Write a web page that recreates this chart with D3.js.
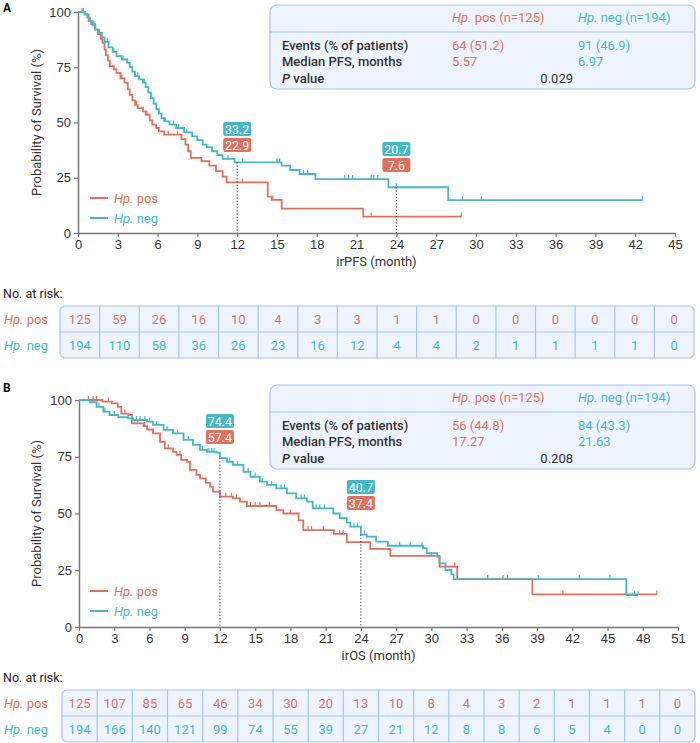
<!DOCTYPE html>
<html>
<head>
<meta charset="utf-8">
<script src="https://cdn.jsdelivr.net/npm/d3@7"></script>
<style>
  body { margin: 0; background: #fff; }
  svg { display: block; font-family: Roboto, "Open Sans", sans-serif; }
</style>
</head>
<body>
<svg id="chart" width="700" height="743"></svg>
<script>
// Kaplan-Meier step points: [month, survival %], value holds from that month on.
var pfsPos = [[0,100],[0.5,98.8],[0.8,96],[1.0,94.5],[1.3,92],[1.5,90],[1.7,88],[1.85,86],[2.0,83],[2.1,80.5],
  [2.25,78],[2.4,75.5],[2.7,74],[2.9,72.5],[3.2,70],[3.5,68],[3.75,65],[3.9,62.5],[4.1,60],[4.3,58],[4.5,56.5],
  [4.9,55],[5.1,53.5],[5.4,51],[5.6,49],[5.9,47.5],[6.1,46],[6.5,44.5],[7.8,42.5],[8.1,40],[8.3,37],[8.5,34],
  [9.3,32.5],[9.9,30.5],[10.4,28],[10.9,25.5],[11.2,22.9],[14.3,16.5],[14.6,15],[15.35,11],[21.5,7.4]];
var pfsPosEnd = 28.9;
var pfsPosCensor = [0.4,1.6,2.4,3.3,4.4,5.2,6.8,7.5,12.4,14.7,22.1,28.9];

var pfsNeg = [[0,100],[0.5,99],[0.7,97.5],[0.9,96],[1.1,94],[1.3,92],[1.5,90.5],[1.8,88.5],[2.0,86.5],[2.3,84],
  [2.6,82],[2.9,80],[3.3,78.5],[3.7,77],[3.9,75],[4.1,73],[4.3,71],[4.6,69.5],[4.9,68],[5.1,66],[5.3,63.5],
  [5.5,61],[5.7,58.5],[5.9,56],[6.1,54],[6.3,52],[6.5,50.5],[6.9,49],[7.4,47.5],[8.0,45.5],[8.6,43.7],[9.0,42],
  [9.4,40],[9.7,38.8],[10.1,37],[10.5,35.2],[10.9,33.5],[11.8,32],[15.35,30.5],[16.0,28.5],[16.7,26.7],
  [17.9,24.4],[23.4,20.7],[27.9,14.9]];
var pfsNegEnd = 42.55;
var pfsNegCensor = [0.3,1.2,1.6,2.2,2.7,3.4,4.5,5.0,6.6,7.2,7.6,8.2,11.3,12.4,15.0,15.2,17.0,17.3,20.1,20.4,
  20.7,22.1,22.3,22.6,24.0,29.0,30.4,42.55];

var osPos = [[0,100],[2.0,99.3],[2.8,98.5],[3.3,97],[3.6,94],[4.2,93.4],[4.5,89.7],[5.5,88.5],[5.8,87],[6.3,85.3],
  [6.9,81.6],[7.3,78.7],[8.0,77.2],[8.3,75.8],[8.7,73.6],[9.2,72.8],[9.45,69.2],[10.0,67],[10.3,65.5],[10.8,63.5],
  [11.15,61.8],[11.4,59.6],[12.0,57.4],[13.1,56.7],[13.7,55.2],[14.3,53.3],[16.8,51.5],[17.4,50],[18.7,47],
  [19.1,42.7],[21.7,41],[22.8,37.4],[24.8,34.4],[26.5,31.3],[30.7,26.6],[32.2,21.1],[38.6,14.4]];
var osPosEnd = 49.2;
var osPosCensor = [0.8,1.2,1.5,2.5,3.9,5.0,5.6,7.6,8.6,12.5,13.0,13.4,14.6,15.0,15.4,16.2,18.0,19.5,19.8,20.8,
  22.2,22.5,30.0,32.0,34.8,36.1,36.5,41.2,49.2];

var osNeg = [[0,100],[0.9,99],[1.5,97],[2.07,94.9],[2.6,93.4],[3.35,92.4],[4.2,91.9],[4.6,91.2],[5.8,90.5],[6.3,89],
  [7.2,86.8],[8.0,85.3],[8.9,82.4],[9.7,80.2],[10.3,78],[10.9,77.2],[11.7,76.8],[12.0,74.4],[12.6,72.8],[13.1,71.4],
  [14.0,68.4],[14.6,66.2],[15.4,64],[16.0,62.6],[16.8,61.1],[17.7,58.9],[18.5,56.7],[19.4,55.2],[19.9,52.3],
  [21.65,50],[22.2,48],[22.8,46],[23.1,44.2],[24.0,40.7],[24.5,39.8],[25.3,37.6],[26.3,35.8],[29.3,34.7],[29.6,32.5],
  [30.5,31],[30.7,28],[31.2,25.1],[31.7,23.2],[31.9,21.1],[46.6,14.1]];
var osNegEnd = 47.6;
var osNegCensor = [1.2,1.7,2.2,3.0,4.5,4.9,5.2,5.6,6.0,6.6,7.5,8.4,9.3,10.5,11.0,11.3,11.5,12.8,13.5,14.4,15.0,15.6,
  16.4,17.2,17.5,18.9,19.2,20.2,20.5,20.9,23.4,23.7,24.3,27.3,28.2,29.2,39.1,42.6,45.2,47.3,47.6];

// Landmark survival labels
var pfsLandmarks = [{t: 12, neg: 33.2, pos: 22.9}, {t: 24, neg: 20.7, pos: 7.6}];
var osLandmarks = [{t: 12, neg: 74.4, pos: 57.4}, {t: 24, neg: 40.7, pos: 37.4}];

// Axes ticks
var pfsTicks = [0,3,6,9,12,15,18,21,24,27,30,33,36,39,42,45];
var osTicks = [0,3,6,9,12,15,18,21,24,27,30,33,36,39,42,45,48,51];
var yTicks = [0,25,50,75,100];

// Number at risk
var pfsRiskPos = [125,59,26,16,10,4,3,3,1,1,0,0,0,0,0,0];
var pfsRiskNeg = [194,110,58,36,26,23,16,12,4,4,2,1,1,1,1,0];
var osRiskPos = [125,107,85,65,46,34,30,20,13,10,8,4,3,2,1,1,1,0];
var osRiskNeg = [194,166,140,121,99,74,55,39,27,21,12,8,8,6,5,4,0,0];

// Summary table
var statLabels = ['Events (% of patients)', 'Median PFS, months', 'value'];
var pfsStatPos = ['64 (51.2)', '5.57'];
var pfsStatNeg = ['91 (46.9)', '6.97'];
var pfsP = '0.029';
var osStatPos = ['56 (44.8)', '17.27'];
var osStatNeg = ['84 (43.3)', '21.63'];
var osP = '0.208';

var RED = '#e2705f', TEAL = '#45b7c7', AXIS = '#777', TXT = '#333';
var svg = d3.select('#chart');

function valueAt(pts, t) {
  var v = pts[0][1];
  pts.forEach(function(p) { if (p[0] <= t) { v = p[1]; } });
  return v;
}

function hpText(sel, rest) {
  sel.append('tspan').attr('font-style', 'italic').text('Hp.');
  sel.append('tspan').text(rest);
}

function drawPanel(cfg) {
  var g = svg.append('g');
  var x = d3.scaleLinear().domain([0, cfg.ticks[cfg.ticks.length - 1]]).range([cfg.x0, cfg.x1]);
  var y = d3.scaleLinear().domain([0, 100]).range([cfg.y0, cfg.y1]);

  g.append('text').attr('x', 3).attr('y', cfg.letterY).attr('font-weight', 'bold')
    .attr('font-size', 12).attr('fill', '#111').text(cfg.letter);

  // stats box
  var b = cfg.box;
  g.append('rect').attr('x', b.x).attr('y', b.y).attr('width', b.w).attr('height', b.h)
    .attr('rx', 7).attr('fill', '#eef4fd').attr('stroke', '#a9c5ee').attr('stroke-width', 1.2);
  g.append('line').attr('x1', b.x).attr('x2', b.x + b.w).attr('y1', b.y + 27).attr('y2', b.y + 27)
    .attr('stroke', '#a9c5ee').attr('stroke-width', 1.2);
  var hd = g.append('g').attr('font-size', 13);
  hd.append('text').attr('x', 452).attr('y', b.y + 17).attr('fill', RED).call(hpText, ' pos (n=125)');
  hd.append('text').attr('x', 578).attr('y', b.y + 17).attr('fill', TEAL).call(hpText, ' neg (n=194)');
  statLabels.forEach(function(lab, i) {
    var t = g.append('text').attr('x', 282).attr('y', b.y + 45 + i * 16.3)
      .attr('font-size', 13).attr('font-weight', 500).attr('fill', TXT);
    if (i === 2) {
      t.append('tspan').attr('font-style', 'italic').text('P');
      t.append('tspan').text(' ' + lab);
    } else { t.text(lab); }
  });
  cfg.statPos.forEach(function(v, i) {
    g.append('text').attr('x', 452).attr('y', b.y + 45 + i * 16.3).attr('font-size', 13).attr('fill', RED).text(v);
  });
  cfg.statNeg.forEach(function(v, i) {
    g.append('text').attr('x', 578).attr('y', b.y + 45 + i * 16.3).attr('font-size', 13).attr('fill', TEAL).text(v);
  });
  g.append('text').attr('x', 573).attr('y', b.y + 45 + 2 * 16.3).attr('text-anchor', 'end')
    .attr('font-size', 13).attr('fill', TXT).text(cfg.p);

  // axes
  var xa = g.append('g').attr('transform', 'translate(0,' + cfg.y0 + ')')
    .call(d3.axisBottom(x).tickValues(cfg.ticks).tickSize(4).tickSizeOuter(0).tickPadding(3));
  var ya = g.append('g').attr('transform', 'translate(' + cfg.x0 + ',0)')
    .call(d3.axisLeft(y).tickValues(yTicks).tickSize(4).tickSizeOuter(0).tickPadding(3));
  [xa, ya].forEach(function(a) {
    a.select('.domain').attr('stroke', AXIS).attr('stroke-width', 1.5);
    a.selectAll('.tick line').attr('stroke', AXIS).attr('stroke-width', 1.2);
    a.selectAll('.tick text').attr('font-size', 13).attr('fill', TXT).attr('font-family', null);
  });
  g.append('text').attr('x', (cfg.x0 + cfg.x1) / 2).attr('y', cfg.y0 + 33).attr('text-anchor', 'middle')
    .attr('font-size', 13).attr('fill', TXT).text(cfg.xTitle);
  g.append('text').attr('transform', 'translate(41,' + (cfg.y0 + cfg.y1) / 2 + ') rotate(-90)')
    .attr('text-anchor', 'middle').attr('font-size', 13).attr('fill', TXT).text('Probability of Survival (%)');

  // curves
  var line = d3.line().x(function(d) { return x(d[0]); }).y(function(d) { return y(d[1]); })
    .curve(d3.curveStepAfter);
  cfg.series.forEach(function(s) {
    var pts = s.pts.concat([[s.end, s.pts[s.pts.length - 1][1]]]);
    g.append('path').datum(pts).attr('d', line).attr('fill', 'none').attr('stroke', s.color)
      .attr('stroke-width', 1.8);
    g.selectAll(null).data(s.censor).enter().append('line')
      .attr('x1', function(t) { return x(t); }).attr('x2', function(t) { return x(t); })
      .attr('y1', function(t) { return y(valueAt(s.pts, t)); })
      .attr('y2', function(t) { return y(valueAt(s.pts, t)) - 4; })
      .attr('stroke', s.color).attr('stroke-width', 1.2);
  });

  // landmarks
  cfg.landmarks.forEach(function(lm, i) {
    var top = y(valueAt(cfg.series[1].pts, lm.t));
    g.append('line').attr('x1', x(lm.t)).attr('x2', x(lm.t)).attr('y1', top).attr('y2', cfg.y0)
      .attr('stroke', '#333').attr('stroke-width', 1).attr('stroke-dasharray', '1.2,2');
    var ly = cfg.labelTop[i];
    [[lm.neg, TEAL], [lm.pos, RED]].forEach(function(d, j) {
      g.append('rect').attr('x', x(lm.t) - 14).attr('y', ly + j * 16).attr('width', 28).attr('height', 14)
        .attr('rx', 2).attr('fill', d[1]);
      g.append('text').attr('x', x(lm.t)).attr('y', ly + j * 16 + 11.5).attr('text-anchor', 'middle')
        .attr('font-size', 12.5).attr('fill', '#fff').text(d3.format('.1f')(d[0]));
    });
  });

  // legend
  [[RED, ' pos'], [TEAL, ' neg']].forEach(function(d, i) {
    var ly = cfg.legendY + i * 20;
    g.append('line').attr('x1', 90).attr('x2', 108).attr('y1', ly).attr('y2', ly)
      .attr('stroke', d[0]).attr('stroke-width', 2);
    g.append('text').attr('x', 114).attr('y', ly + 4.5).attr('font-size', 13).attr('fill', d[0])
      .call(hpText, d[1]);
  });

  // number at risk
  var r = cfg.risk;
  g.append('text').attr('x', 3).attr('y', r.y - 8).attr('font-size', 12.5).attr('fill', '#222').text('No. at risk:');
  var cols = d3.scaleBand().domain(d3.range(r.pos.length)).range([r.x0, r.x1]);
  g.append('rect').attr('x', r.x0).attr('y', r.y).attr('width', r.x1 - r.x0).attr('height', 52)
    .attr('rx', 5).attr('fill', '#eef5fe').attr('stroke', '#a9c5ee').attr('stroke-width', 1.2);
  g.append('line').attr('x1', r.x0).attr('x2', r.x1).attr('y1', r.y + 26).attr('y2', r.y + 26)
    .attr('stroke', '#a9c5ee').attr('stroke-width', 1.2);
  g.selectAll(null).data(d3.range(1, r.pos.length)).enter().append('line')
    .attr('x1', function(i) { return cols(i); }).attr('x2', function(i) { return cols(i); })
    .attr('y1', r.y).attr('y2', r.y + 52).attr('stroke', '#a9c5ee').attr('stroke-width', 1.2);
  [[r.pos, RED, ' pos'], [r.neg, TEAL, ' neg']].forEach(function(row, j) {
    var ty = r.y + 18 + j * 26;
    g.append('text').attr('x', 4).attr('y', ty).attr('font-size', 13).attr('fill', row[1]).call(hpText, row[2]);
    g.selectAll(null).data(row[0]).enter().append('text')
      .attr('x', function(v, i) { return cols(i) + cols.bandwidth() / 2; }).attr('y', ty)
      .attr('text-anchor', 'middle').attr('font-size', 13).attr('fill', row[1]).text(function(v) { return v; });
  });
}

drawPanel({
  letter: 'A', letterY: 12, x0: 78, x1: 675, y0: 233, y1: 12, ticks: pfsTicks, xTitle: 'irPFS (month)',
  box: {x: 270, y: 5, w: 425, h: 84}, statPos: pfsStatPos, statNeg: pfsStatNeg, p: pfsP,
  series: [
    {pts: pfsPos, end: pfsPosEnd, censor: pfsPosCensor, color: RED},
    {pts: pfsNeg, end: pfsNegEnd, censor: pfsNegCensor, color: TEAL}
  ],
  landmarks: pfsLandmarks, labelTop: [122, 142], legendY: 198,
  risk: {x0: 60, x1: 694, y: 306, pos: pfsRiskPos, neg: pfsRiskNeg}
});

drawPanel({
  letter: 'B', letterY: 392, x0: 79, x1: 678, y0: 627, y1: 400, ticks: osTicks, xTitle: 'irOS (month)',
  box: {x: 270, y: 385, w: 425, h: 84}, statPos: osStatPos, statNeg: osStatNeg, p: osP,
  series: [
    {pts: osPos, end: osPosEnd, censor: osPosCensor, color: RED},
    {pts: osNeg, end: osNegEnd, censor: osNegCensor, color: TEAL}
  ],
  landmarks: osLandmarks, labelTop: [414, 480], legendY: 591,
  risk: {x0: 62, x1: 695, y: 690, pos: osRiskPos, neg: osRiskNeg}
});
</script>
</body>
</html>
